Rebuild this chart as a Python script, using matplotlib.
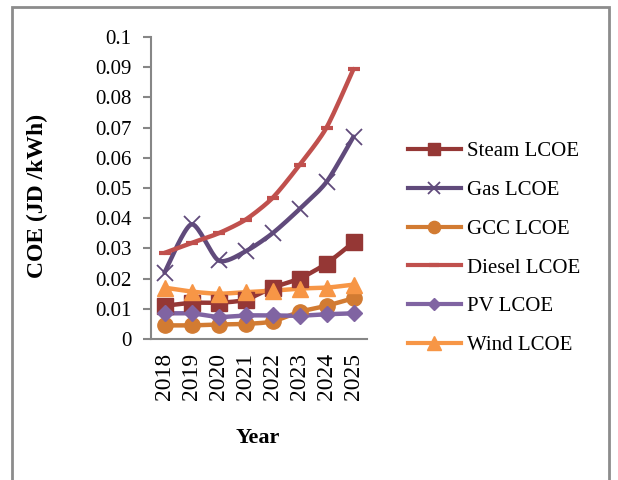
import numpy as np
import matplotlib
matplotlib.use("Agg")
import matplotlib.pyplot as plt
from matplotlib.patches import Rectangle
from matplotlib.lines import Line2D

plt.rcParams['font.family'] = ['Liberation Serif', 'DejaVu Serif']

years = ['2018', '2019', '2020', '2021', '2022', '2023', '2024', '2025']
steam = [0.011, 0.012, 0.012, 0.013, 0.017, 0.020, 0.025, 0.032]
gas = [0.022, 0.038, 0.026, 0.029, 0.035, 0.043, 0.052, 0.067]
gcc = [0.0045, 0.0045, 0.0048, 0.005, 0.0058, 0.009, 0.011, 0.0135]
diesel = [0.0285, 0.0318, 0.035, 0.0395, 0.0467, 0.0576, 0.070, 0.0894]
pv = [0.0085, 0.0085, 0.0073, 0.0078, 0.0078, 0.0077, 0.0082, 0.0085]
wind = [0.017, 0.0157, 0.015, 0.0155, 0.016, 0.0167, 0.017, 0.018]

series = [
    ("Steam LCOE", steam, '#953735', 's', 11, 1),
    ("Gas LCOE", gas, '#604A7B', 'x', 11, 1.3),
    ("GCC LCOE", gcc, '#D27B32', 'o', 11, 1),
    ("Diesel LCOE", diesel, '#C0504D', '_', 9, 3),
    ("PV LCOE", pv, '#8064A2', 'D', 8, 1),
    ("Wind LCOE", wind, '#F79646', '^', 12, 1),
]


def smooth(x, y, n=20, k=8):
    # excel-like smoothed line (bezier through the points)
    x = np.asarray(x, float)
    y = np.asarray(y, float)
    px = np.concatenate([[x[0]], x, [x[-1]]])
    py = np.concatenate([[y[0]], y, [y[-1]]])
    xs, ys = [], []
    t = np.linspace(0, 1, n)
    for i in range(1, len(x)):
        p0 = np.array([px[i - 1], py[i - 1]])
        p1 = np.array([px[i], py[i]])
        p2 = np.array([px[i + 1], py[i + 1]])
        p3 = np.array([px[i + 2], py[i + 2]])
        c1 = p1 + (p2 - p0) / k
        c2 = p2 - (p3 - p1) / k
        b = ((1 - t) ** 3)[:, None] * p1 + (3 * (1 - t) ** 2 * t)[:, None] * c1 \
            + (3 * (1 - t) * t ** 2)[:, None] * c2 + (t ** 3)[:, None] * p2
        xs.extend(b[:, 0])
        ys.extend(b[:, 1])
    return xs, ys


fig = plt.figure(figsize=(6.18, 4.8), dpi=100)
ax = fig.add_axes([151 / 618, 141 / 480, 216 / 618, 302 / 480])

xi = np.arange(len(years))
handles = []
for name, vals, col, mk, ms, mew in series:
    sx, sy = smooth(xi, vals)
    ax.plot(sx, sy, color=col, lw=3.2, solid_capstyle='round', zorder=2)
    ax.plot(xi, vals, ls='none', marker=mk, ms=ms, color=col, mec=col, mew=mew, zorder=3)
    handles.append(Line2D([], [], color=col, lw=3, marker=mk, ms=ms * 0.8, mec=col, mew=mew))

ax.set_xlim(-0.5, 7.5)
ax.set_ylim(0, 0.1)
ax.set_yticks(np.arange(0, 0.101, 0.01))
ax.set_yticklabels(['0'] + ['%g' % v for v in np.round(np.arange(0.01, 0.101, 0.01), 2)])
ax.set_xticks(xi)
ax.set_xticklabels(years, rotation=90)
ax.tick_params(axis='x', length=0, pad=10, labelsize=17)
ax.tick_params(axis='y', length=6, color='#868686', width=1.5, pad=8, labelsize=15)
for s in ['top', 'right']:
    ax.spines[s].set_visible(False)
for s in ['left', 'bottom']:
    ax.spines[s].set_color('#868686')
    ax.spines[s].set_linewidth(1.5)

fig.text(37 / 618, 1 - 196 / 480, 'COE (JD /kWh)', rotation=90, ha='center', va='center',
         fontsize=17, fontweight='bold')
fig.text(258 / 618, 1 - 438 / 480, 'Year', ha='center', va='center', fontsize=16, fontweight='bold')

fig.legend(handles, [s[0] for s in series], loc='upper left', bbox_to_anchor=(389 / 618, 1 - 123 / 480),
           frameon=False, fontsize=15, handlelength=2.55, handletextpad=0.3, labelspacing=0.92)

fig.patches.append(Rectangle((12 / 618, -0.05), 597 / 618, 1.05 - 7 / 480, transform=fig.transFigure,
                             fill=False, ec='#8c8c8c', lw=2))

fig.savefig('out.png', dpi=100)
